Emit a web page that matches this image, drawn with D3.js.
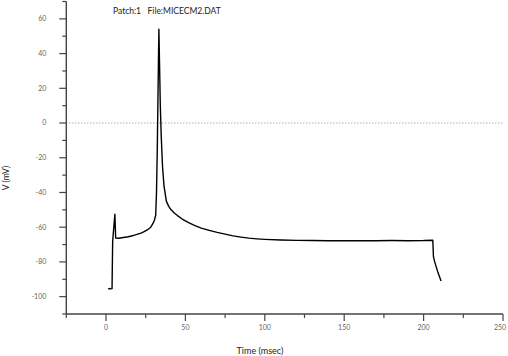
<!DOCTYPE html>
<html><head><meta charset="utf-8">
<script src="https://cdn.jsdelivr.net/npm/d3@7"></script>
<style>body{margin:0;background:#fff}svg{display:block}</style>
</head><body>
<svg id="c" width="508" height="356"></svg>
<script>
const timeMs = [1.5,2,3,3.8,4.2,5.6,6.1,8,10,12,14,16,18,20,22,24,26,28,29.5,30.5,31.3,31.8,32.3,32.8,33.3,33.7,34.2,34.8,35.6,36.5,38,39.5,41,43,45,48,52,56,60,65,70,75,80,85,90,95,100,110,120,130,140,150,160,170,180,190,200,205.8,206.2,207,209,211];
const voltage = [-95.8,-95.3,-95.5,-95.4,-68,-52.5,-66.3,-66.4,-66.1,-65.8,-65.5,-65.1,-64.6,-64,-63.4,-62.6,-61.6,-60.2,-58,-56,-53,-40,-15,20,54,35,10,-8,-25,-36,-45,-48,-50,-51.8,-53.3,-55.3,-57.4,-59.1,-60.5,-61.8,-63,-64,-65,-65.7,-66.3,-66.7,-67,-67.4,-67.6,-67.7,-67.8,-67.8,-67.8,-67.8,-67.7,-67.8,-67.7,-67.5,-77,-80,-86,-91];
const yMajor = [-100,-80,-60,-40,-20,0,20,40,60];
const xMajor = [0,50,100,150,200,250];
const title = "Patch:1   File:MICECM2.DAT";
const xTitle = "Time (msec)";
const yTitle = "V (mV)";

const svg = d3.select("#c");
const x = d3.scaleLinear().domain([-25,250]).range([66.3,503]);
const y = d3.scaleLinear().domain([-110,70]).range([314,1.5]);
const font = "Lato, 'Liberation Sans', sans-serif";

// zero line
svg.append("line").attr("x1",x(-25)).attr("x2",x(250)).attr("y1",y(0)).attr("y2",y(0))
  .attr("stroke","#888").attr("stroke-width",1).attr("stroke-dasharray","1,2");

// y axis
const yMinor = d3.range(-110,71,10).filter(v=>!yMajor.includes(v));
const yAx = svg.append("g").attr("transform",`translate(${x(-25)},0)`);
yAx.append("line").attr("x1",0).attr("x2",0).attr("y1",y(70)).attr("y2",y(-110)).attr("stroke","#444").attr("stroke-width",1.4);
yAx.selectAll(".ymaj").data(yMajor).join("line").attr("x1",-7).attr("x2",0).attr("y1",d=>y(d)).attr("y2",d=>y(d)).attr("stroke","#444").attr("stroke-width",1.2);
yAx.selectAll(".ymin").data(yMinor).join("line").attr("x1",-4).attr("x2",0).attr("y1",d=>y(d)).attr("y2",d=>y(d)).attr("stroke","#444").attr("stroke-width",1.2);
yAx.selectAll(".ylab").data(yMajor).join("text").attr("x",-20).attr("y",d=>y(d)).attr("dy","0.35em")
  .attr("text-anchor","end").attr("font-family",font).attr("font-size",7).attr("fill","#666").text(d=>d);

// x axis
const xMinor = d3.range(-25,251,25).filter(v=>!xMajor.includes(v));
const xAx = svg.append("g").attr("transform",`translate(0,${y(-110)})`);
xAx.append("line").attr("x1",x(-25)).attr("x2",x(250)).attr("y1",0).attr("y2",0).attr("stroke","#444").attr("stroke-width",1.4);
xAx.selectAll(".xmaj").data(xMajor).join("line").attr("x1",d=>x(d)).attr("x2",d=>x(d)).attr("y1",0).attr("y2",7).attr("stroke","#444").attr("stroke-width",1.2);
xAx.selectAll(".xmin").data(xMinor).join("line").attr("x1",d=>x(d)).attr("x2",d=>x(d)).attr("y1",0).attr("y2",4).attr("stroke","#444").attr("stroke-width",1.2);
xAx.selectAll(".xlab").data(xMajor).join("text").attr("x",d=>Math.min(x(d),500)).attr("y",14).attr("dy","0.35em")
  .attr("text-anchor","middle").attr("font-family",font).attr("font-size",7).attr("fill","#666").text(d=>d);

// titles
svg.append("text").attr("x",113).attr("y",14).attr("font-family",font).attr("font-size",8.5).attr("fill","#222").text(title).style("white-space","pre");
svg.append("text").attr("x",260).attr("y",354).attr("text-anchor","middle").attr("font-family",font).attr("font-size",9).attr("fill","#222").text(xTitle);
svg.append("text").attr("transform","translate(9,178) rotate(-90)").attr("text-anchor","middle").attr("font-family",font).attr("font-size",8.5).attr("fill","#222").text(yTitle);

// trace
const pts = timeMs.map((t,i)=>[t,voltage[i]]);
svg.append("path").datum(pts).attr("fill","none").attr("stroke","#000").attr("stroke-width",1.4)
  .attr("stroke-linejoin","round")
  .attr("d",d3.line().x(d=>x(d[0])).y(d=>y(d[1])));
</script>
</body></html>
